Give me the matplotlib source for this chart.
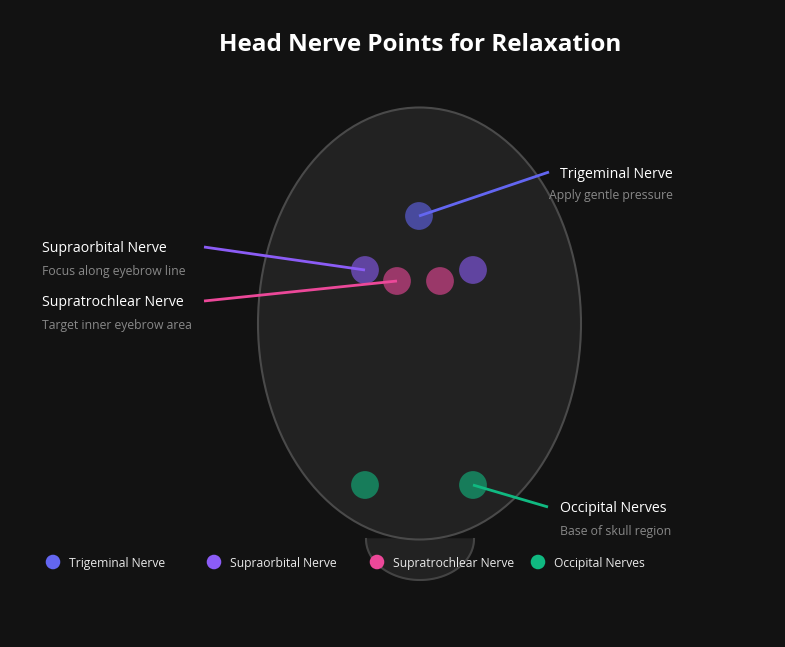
import numpy as np
import matplotlib.pyplot as plt
import matplotlib.patches as patches

plt.rcParams['font.family'] = ['Open Sans', 'DejaVu Sans']

# nerve groups
nerves = ['Trigeminal Nerve', 'Supraorbital Nerve', 'Supratrochlear Nerve', 'Occipital Nerves']
notes = ['Apply gentle pressure', 'Focus along eyebrow line', 'Target inner eyebrow area', 'Base of skull region']
colors = ['#6366f1', '#8b5cf6', '#ec4899', '#10b981']

# point positions (pixel space of the drawing, y down)
point_x = [[419], [365, 473], [397, 440], [365, 473]]
point_y = [[216], [270, 270], [281, 281], [485, 485]]

# label anchors: where the leader line ends and the text sits
label_x = [549, 204, 204, 548]
label_y = [172, 247, 301, 507]
text_x = [673, 42, 42, 560]
text_ha = ['right', 'left', 'left', 'left']
leader_from = [0, 0, 0, 1]

bg = '#121212'
fig = plt.figure(figsize=(7.85, 6.47), dpi=100, facecolor=bg)
ax = fig.add_axes([0, 0, 1, 1])
ax.set_facecolor(bg)
ax.set_xlim(0, 785)
ax.set_ylim(647, 0)
ax.axis('off')

# neck: lower half of an ellipse, tucked under the head
t = np.linspace(0, np.pi, 100)
neck_x = 420 + 54 * np.cos(t)
neck_y = 539 + 41 * np.sin(t)
ax.fill(neck_x, neck_y, color='#222222', zorder=1)
ax.plot(neck_x, neck_y, color='#444444', linewidth=1.5, zorder=1)

# head
ax.add_patch(patches.Ellipse((419.5, 323.5), 323, 432, facecolor='#222222',
                             edgecolor='#4a4a4a', linewidth=1.5, zorder=2))

for i, name in enumerate(nerves):
    ax.scatter(point_x[i], point_y[i], s=400, color=colors[i], alpha=0.6,
               edgecolors='none', zorder=3)
    j = leader_from[i]
    ax.plot([point_x[i][j], label_x[i]], [point_y[i][j], label_y[i]],
            color=colors[i], linewidth=2, zorder=4, solid_capstyle='butt')
    tx = text_x[i]
    ax.text(tx, label_y[i] + 2, name, color='white', fontsize=10.2,
            ha=text_ha[i], va='center', zorder=5)
    ax.text(tx, label_y[i] + 24, notes[i], color='#888888', fontsize=8.8,
            ha=text_ha[i], va='center', zorder=5)

# legend
leg_x = [53, 214, 377, 538]
for i, name in enumerate(nerves):
    ax.scatter([leg_x[i]], [562], s=110, color=colors[i], edgecolors='none', zorder=6)
    ax.text(leg_x[i] + 16, 563, name, color='#e8e8e8', fontsize=8.7,
            ha='left', va='center', zorder=6)

ax.text(420, 45, 'Head Nerve Points for Relaxation', color='white', fontsize=17.5,
        fontweight='bold', ha='center', va='center')

fig.savefig('out.png', dpi=100, facecolor=bg)
